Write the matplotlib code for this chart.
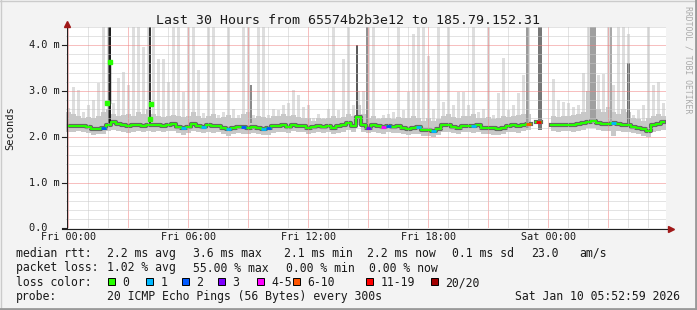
import numpy as np
import matplotlib
matplotlib.use("Agg")
import matplotlib.pyplot as plt
from matplotlib.lines import Line2D
from matplotlib.patches import Rectangle

W, H = 697, 310
T = 4.4  # top of the value axis (ms)

# 15 minute bins, first bin starts Thu 23:53 (hours relative to Fri 00:00)
start_h = -0.117
bin_h = 0.25

median_ms = [
    2.24, 2.24, 2.24, 2.23, 2.21, 2.17, 2.17, 2.19, 2.25, 2.32, 2.27, 2.26,
    2.23, 2.25, 2.26, 2.24, 2.25, 2.25, 2.26, 2.24, 2.25, 2.27, 2.22, 2.18,
    2.22, 2.27, 2.24, 2.22, 2.25, 2.23, 2.24, 2.20, 2.16, 2.20, 2.22, 2.21,
    2.19, 2.22, 2.20, 2.17, 2.18, 2.23, 2.24, 2.25, 2.22, 2.26, 2.23, 2.24,
    2.20, 2.22, 2.24, 2.22, 2.23, 2.20, 2.23, 2.25, 2.30, 2.24, 2.43, 2.25,
    2.20, 2.25, 2.23, 2.21, 2.24, 2.22, 2.23, 2.20, 2.17, 2.20, 2.21, 2.15,
    2.14, 2.13, 2.17, 2.25, 2.25, 2.22, 2.20, 2.24, 2.24, 2.23, 2.25, 2.20,
    2.20, 2.18, 2.17, 2.18, 2.24, 2.25, 2.23, 2.26, 2.28, np.nan, 2.32, np.nan,
    np.nan, 2.26, 2.25, 2.26, 2.26, 2.25, 2.27, 2.30, 2.33, 2.35, 2.30, 2.28,
    2.28, 2.30, 2.28, 2.26, 2.25, 2.22, 2.18, 2.16, 2.13, 2.25, 2.27, 2.32,
]
max_ms = [
    2.62, 3.08, 3.02, 2.54, 2.69, 2.80, 3.17, T, T, 2.73, 3.28, 3.41,
    3.13, T, T, 3.95, T, T, 3.70, 3.70, 3.20, T, T, 2.98,
    T, T, 3.45, 2.51, T, T, 2.48, 2.55, T, 2.60, 2.48, T,
    T, 2.48, T, T, 2.48, 2.60, 2.58, 2.69, 2.73, 3.02, 2.90, 2.65,
    2.69, 2.41, 2.50, 2.41, 2.60, T, 2.58, 3.70, T, 2.69, 3.00, 3.00,
    T, T, 2.41, 2.48, 2.50, 2.55, T, 2.58, 2.98, 4.25, T, T,
    3.76, 2.60, T, 2.75, T, 2.69, 2.98, 2.98, 2.69, T, 2.55, 2.60,
    T, 2.48, 2.95, 3.72, 2.58, 2.69, 2.95, 3.35, T, np.nan, np.nan, np.nan,
    np.nan, 3.27, 2.80, 2.75, 2.73, 2.65, 2.69, 3.40, T, T, 3.34, 3.37,
    T, 3.13, T, T, 4.25, 2.48, 2.58, 2.69, T, 3.13, 3.20, 2.73,
]
upper_ms = [
    2.55, 2.50, 2.45, 2.40, 2.42, 2.40, 2.45, 2.55, 2.60, 2.50, 2.45, 2.48,
    2.50, 2.45, 2.55, 2.50, 2.60, 2.50, 2.45, 2.42, 2.45, 2.48, 2.45, 2.42,
    2.45, 2.55, 2.45, 2.40, 2.45, 2.50, 2.40, 2.42, 2.48, 2.40, 2.40, 2.50,
    2.55, 2.40, 2.45, 2.42, 2.40, 2.45, 2.45, 2.50, 2.45, 2.48, 2.42, 2.40,
    2.40, 2.35, 2.40, 2.38, 2.40, 2.45, 2.40, 2.42, 2.50, 2.45, 2.70, 2.50,
    2.40, 2.45, 2.38, 2.40, 2.40, 2.38, 2.42, 2.40, 2.40, 2.45, 2.40, 2.35,
    2.40, 2.35, 2.38, 2.45, 2.50, 2.42, 2.40, 2.45, 2.45, 2.50, 2.40, 2.40,
    2.42, 2.38, 2.40, 2.45, 2.42, 2.45, 2.48, 2.50, 2.50, np.nan, np.nan, np.nan,
    np.nan, 2.45, 2.42, 2.45, 2.45, 2.48, 2.50, 2.55, 3.00, 2.90, 2.60, 2.55,
    2.65, 2.55, 2.50, 2.60, 2.55, 2.40, 2.38, 2.35, 2.40, 2.45, 2.50, 2.45,
]
min_ms = [
    2.10, 2.10, 2.12, 2.10, 2.08, 2.04, 2.05, 2.06, 2.12, 2.15, 2.12, 2.10,
    2.08, 2.10, 2.12, 2.10, 2.12, 2.10, 2.12, 2.10, 2.12, 2.13, 2.08, 2.04,
    2.08, 2.12, 2.10, 2.08, 2.10, 2.08, 2.10, 2.06, 2.02, 2.06, 2.08, 2.06,
    2.05, 2.08, 2.06, 2.03, 2.04, 2.08, 2.10, 2.10, 2.08, 2.12, 2.10, 2.10,
    2.06, 2.08, 2.10, 2.08, 2.10, 2.06, 2.08, 2.10, 2.15, 2.10, 2.25, 2.10,
    2.08, 2.10, 2.08, 2.06, 2.10, 2.08, 2.08, 2.06, 2.04, 2.06, 2.06, 2.02,
    2.02, 2.00, 2.04, 2.10, 2.10, 2.08, 2.06, 2.10, 2.10, 2.08, 2.10, 2.06,
    2.06, 2.04, 2.04, 2.05, 2.10, 2.10, 2.08, 2.12, 2.14, np.nan, np.nan, np.nan,
    np.nan, 2.12, 2.10, 2.12, 2.12, 2.10, 2.12, 2.14, 2.18, 2.18, 2.14, 2.12,
    2.12, 2.02, 2.12, 2.10, 2.10, 2.08, 2.05, 2.02, 2.00, 2.10, 2.12, 2.15,
]

# bins with packet loss (bin index -> lost pings out of 20)
loss_bins = {7: 2, 23: 1, 27: 1, 32: 1, 35: 2, 39: 1, 40: 2, 60: 3, 63: 4,
             64: 2, 70: 1, 73: 1, 81: 1, 92: 7, 94: 15, 109: 1}

# narrow dense smoke columns: hour, bottom, top, grey
spike_h = [2.06, 4.08, 9.13, 14.43, 14.93, 22.98, 23.58, 26.23, 27.13, 28.03]
spike_lo = [2.30, 2.30, 2.30, 2.30, 2.30, 2.20, 2.15, 2.30, 2.30, 2.30]
spike_hi = [T, T, 3.13, 4.00, T, T, T, T, T, 3.60]
spike_w = [0.15, 0.07, 0.07, 0.10, 0.06, 0.15, 0.20, 0.30, 0.10, 0.15]
spike_grey = ['#1e1e1e', '#333333', '#8a8a8a', '#5a5a5a', '#909090',
              '#9a9a9a', '#777777', '#a0a0a0', '#a8a8a8', '#707070']

# median samples inside the big spikes
spike_med_h = [1.95, 2.10, 4.10, 4.13]
spike_med_ms = [2.73, 3.63, 2.38, 2.71]

loss_labels = ['0', '1', '2', '3', '4-5', '6-10', '11-19', '20/20']
loss_colors = ['#26ff00', '#00b8ff', '#0059ff', '#7e00ff', '#ff00ff',
               '#ff5500', '#ff0000', '#a10000']

x_ticks = [0, 6, 12, 18, 24]
x_tick_labels = ['Fri 00:00', 'Fri 06:00', 'Fri 12:00', 'Fri 18:00', 'Sat 00:00']
y_ticks = [0, 1, 2, 3, 4]
y_tick_labels = ['0.0  ', '1.0 m', '2.0 m', '3.0 m', '4.0 m']


def loss_color(n):
    if n == 0:
        return loss_colors[0]
    if n <= 3:
        return loss_colors[n]
    if n <= 5:
        return loss_colors[4]
    if n <= 10:
        return loss_colors[5]
    if n <= 19:
        return loss_colors[6]
    return loss_colors[7]


def fx(x):
    return x / W


def fy(y):
    return 1 - y / H


plt.rcParams['font.family'] = ['DejaVu Sans Mono']

fig = plt.figure(figsize=(W / 100, H / 100), dpi=100, facecolor='#f3f3f3')

ax_left, ax_right, ax_top, ax_bot = 66, 666, 26.8, 228.3
ax = fig.add_axes([fx(ax_left), fy(ax_bot), (ax_right - ax_left) / W,
                   (ax_bot - ax_top) / H])
ax.set_facecolor('white')
x0 = start_h
x1 = start_h + bin_h * len(median_ms)
ax.set_xlim(x0, x1)
ax.set_ylim(0, T)
for s in ax.spines.values():
    s.set_visible(False)
ax.set_xticks([])
ax.set_yticks([])

centers = start_h + bin_h * (np.arange(len(median_ms)) + 0.5)
med = np.array(median_ms)
mx = np.array(max_ms)
up = np.array(upper_ms)
mn = np.array(min_ms)

# smoke
ax.bar(centers, mx - mn, bottom=mn, width=bin_h * 0.75, color='#dedede',
       linewidth=0, zorder=1)
ax.bar(centers, up - mn, bottom=mn, width=bin_h, color='#c8c8c8',
       linewidth=0, zorder=1.2)
ax.step(centers, med, where='mid', color='#666666', lw=3.0, zorder=1.4)
ax.bar(spike_h, np.array(spike_hi) - np.array(spike_lo), bottom=spike_lo,
       width=spike_w, color=spike_grey, linewidth=0, zorder=1.6)

# grid on top of the smoke
dot = (0, (1, 1))
for h in np.arange(0, 30):
    major = h % 3 == 0
    ax.axvline(h, color='#f08080' if major else '#c8c8c8', lw=0.72,
               ls=dot, zorder=2)
for v in np.arange(0.2, T + 0.01, 0.2):
    major = abs(v - round(v)) < 1e-6
    ax.axhline(v, color='#f08080' if major else '#c8c8c8', lw=0.72,
               ls=dot, zorder=2)

# median line coloured by loss
ax.step(centers, med, where='mid', color=loss_colors[0], lw=1.5, zorder=3)
for i, n in loss_bins.items():
    c = centers[i]
    ax.hlines(med[i], c - bin_h / 2, c + bin_h / 2, color=loss_color(n),
              lw=2.0, zorder=3.2)
ax.plot([spike_h[0], spike_h[0]], [spike_med_ms[0], spike_med_ms[1]],
        color='#1e1e1e', lw=1.0, zorder=3)
ax.plot(spike_med_h, spike_med_ms, ls='none', marker='s', ms=2.2,
        color=loss_colors[0], zorder=3.3)

# axis lines and arrows
axis_c = '#202020'
arrow_c = '#a01818'
fig.add_artist(Line2D([fx(66.5), fx(66.5)], [fy(228.5), fy(24)], color=axis_c,
                      lw=0.8))
fig.add_artist(Line2D([fx(62), fx(668)], [fy(228.5), fy(228.5)], color=axis_c,
                      lw=0.8))
fig.add_artist(Line2D([fx(66.5)], [fy(23.5)], marker='^', ms=5, color=arrow_c,
                      lw=0))
fig.add_artist(Line2D([fx(670.5)], [fy(228.5)], marker='>', ms=5,
                      color=arrow_c, lw=0))

# y ticks
for v, lab in zip(y_ticks, y_tick_labels):
    yp = ax_bot - v * (ax_bot - ax_top) / T
    fig.add_artist(Line2D([fx(62), fx(66)], [fy(yp), fy(yp)], color=axis_c,
                          lw=0.8))
    fig.text(fx(60), fy(yp), lab, ha='right', va='center', fontsize=7.4,
             color='#1a1a1a')

# x ticks
for h, lab in zip(x_ticks, x_tick_labels):
    xp = ax_left + (h - x0) / (x1 - x0) * (ax_right - ax_left)
    fig.text(fx(xp), fy(240), lab, ha='center', va='baseline', fontsize=7.3,
             color='#1a1a1a')

# titles
fig.text(fx(348), fy(23.5), 'Last 30 Hours from 65574b2b3e12 to 185.79.152.31',
         ha='center', va='baseline', fontsize=9.5, color='#1a1a1a')
fig.text(fx(10), fy(128), 'Seconds', rotation=90, ha='center', va='center',
         fontsize=7.5, color='#1a1a1a')
fig.text(fx(688), fy(60), 'RRDTOOL / TOBI OETIKER', rotation=-90, ha='center',
         va='center', fontsize=5.9, color='#aaaaaa')

# legend
fs = 8.3
tc = '#1a1a1a'
line1 = [(16, 'median rtt:'), (107, '2.2 ms avg'), (193, '3.6 ms max'),
         (284, '2.1 ms min'), (367, '2.2 ms now'), (452, '0.1 ms sd'),
         (531, '23.0'), (579, 'am/s')]
line2 = [(16, 'packet loss:'), (107, '1.02 % avg'), (193, '55.00 % max'),
         (286, '0.00 % min'), (369, '0.00 % now')]
for x, s in line1:
    fig.text(fx(x), fy(257), s, ha='left', va='baseline', fontsize=fs, color=tc)
for x, s in line2:
    fig.text(fx(x), fy(271.5), s, ha='left', va='baseline', fontsize=fs,
             color=tc)

fig.text(fx(16), fy(286), 'loss color:', ha='left', va='baseline',
         fontsize=fs, color=tc)
box_x = [108, 146, 182, 218, 257, 293, 366, 431]
for bx, lab, col in zip(box_x, loss_labels, loss_colors):
    fig.add_artist(Rectangle((fx(bx), fy(284.5)), 7 / W, 7 / H,
                             facecolor=col, edgecolor='#000000', lw=0.7))
    fig.text(fx(bx + 14.5), fy(286), lab, ha='left', va='baseline',
             fontsize=fs, color=tc)

fig.text(fx(16), fy(300), 'probe:', ha='left', va='baseline', fontsize=fs,
         color=tc)
fig.text(fx(107), fy(300), '20 ICMP Echo Pings (56 Bytes) every 300s',
         ha='left', va='baseline', fontsize=fs, color=tc)
fig.text(fx(680), fy(300), 'Sat Jan 10 05:52:59 2026', ha='right',
         va='baseline', fontsize=fs, color=tc)

# 3d frame
fig.add_artist(Line2D([0, 1], [fy(0.5), fy(0.5)], color='#cbcbcb', lw=1))
fig.add_artist(Line2D([fx(0.5), fx(0.5)], [0, 1], color='#cbcbcb', lw=1))
fig.add_artist(Line2D([0, 1], [fy(308.5), fy(308.5)], color='#999999', lw=2))
fig.add_artist(Line2D([fx(695.5), fx(695.5)], [0, 1], color='#999999', lw=2))

fig.savefig('out.png', dpi=100, facecolor=fig.get_facecolor())
